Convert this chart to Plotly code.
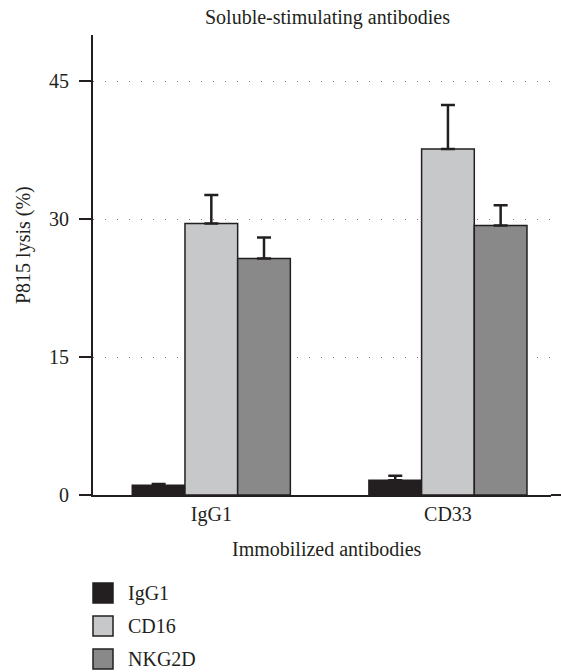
import plotly.graph_objects as go

categories = ["IgG1", "CD33"]
series_names = ["IgG1", "CD16", "NKG2D"]
igg1_vals = [1.05, 1.6]
igg1_err = [0.15, 0.5]
cd16_vals = [29.5, 37.6]
cd16_err = [3.1, 4.8]
nkg2d_vals = [25.7, 29.3]
nkg2d_err = [2.3, 2.2]
y_ticks = [0, 15, 30, 45]

colors = ["#231f20", "#c7c8ca", "#898989"]
values = [igg1_vals, cd16_vals, nkg2d_vals]
errors = [igg1_err, cd16_err, nkg2d_err]

INK = "#231f20"
FONT = "Liberation Serif"
FS = 20

fig = go.Figure()
xpos = list(range(len(categories)))
for name, v, e, c in zip(series_names, values, errors, colors):
    fig.add_trace(go.Bar(
        x=xpos, y=v, name=name,
        marker=dict(color=c, line=dict(color=INK, width=1.5)),
        error_y=dict(type="data", array=e, symmetric=False, arrayminus=[0]*len(e),
                     color=INK, thickness=2.5, width=7),
        showlegend=False,
    ))

W, H = 561, 672
L, R, T, B = 93, 10, 35, 177
pw = W - L - R
ph = H - T - B

def px_x(px):
    return (px - L) / pw

def px_y(py):
    return (H - B - py) / ph

# x axis line continues slightly past the gridlines
fig.add_shape(type="line", xref="paper", yref="paper", x0=1, x1=px_x(561), y0=0, y1=0,
              line=dict(color=INK, width=2))

# legend drawn as shapes + text
for i, (name, c) in enumerate(zip(series_names, colors)):
    top = 583 + 33 * i
    fig.add_shape(type="rect", xref="paper", yref="paper",
                  x0=px_x(93), x1=px_x(113), y0=px_y(top + 20), y1=px_y(top),
                  fillcolor=c, line=dict(color=INK, width=1.5))
    fig.add_annotation(xref="paper", yref="paper", x=px_x(126), y=px_y(top + 10),
                       text=name, showarrow=False, xanchor="left", yanchor="middle",
                       font=dict(family=FONT, size=FS, color=INK))

fig.add_annotation(xref="paper", yref="paper", x=px_x(327), y=px_y(17),
                   text="Soluble-stimulating antibodies", showarrow=False,
                   xanchor="center", yanchor="middle",
                   font=dict(family=FONT, size=FS, color=INK))
fig.add_annotation(xref="paper", yref="paper", x=px_x(327), y=px_y(549),
                   text="Immobilized antibodies", showarrow=False,
                   xanchor="center", yanchor="middle",
                   font=dict(family=FONT, size=FS, color=INK))
fig.add_annotation(xref="paper", yref="paper", x=px_x(23), y=px_y(245),
                   text="P815 lysis (%)", showarrow=False, textangle=-90,
                   xanchor="center", yanchor="middle",
                   font=dict(family=FONT, size=FS, color=INK))

fig.update_layout(
    width=W, height=H,
    margin=dict(l=L, r=R, t=T, b=B),
    paper_bgcolor="white", plot_bgcolor="white",
    barmode="group", bargap=0.332, bargroupgap=0,
    font=dict(family=FONT, size=FS, color=INK),
    xaxis=dict(range=[-0.5, 1.4355], tickvals=xpos, ticktext=categories,
               showline=True, linecolor=INK, linewidth=2, ticks="",
               showgrid=False, zeroline=False,
               tickfont=dict(family=FONT, size=FS, color=INK)),
    yaxis=dict(range=[0, 50], tickvals=y_ticks, showline=True, linecolor=INK,
               linewidth=2, ticks="outside", ticklen=12, tickwidth=2, tickcolor=INK,
               showgrid=True, gridcolor="#777777", gridwidth=1, griddash="1px,11px",
               zeroline=False, ticklabelstandoff=6,
               tickfont=dict(family=FONT, size=FS, color=INK)),
)

fig.write_html("out.html")
